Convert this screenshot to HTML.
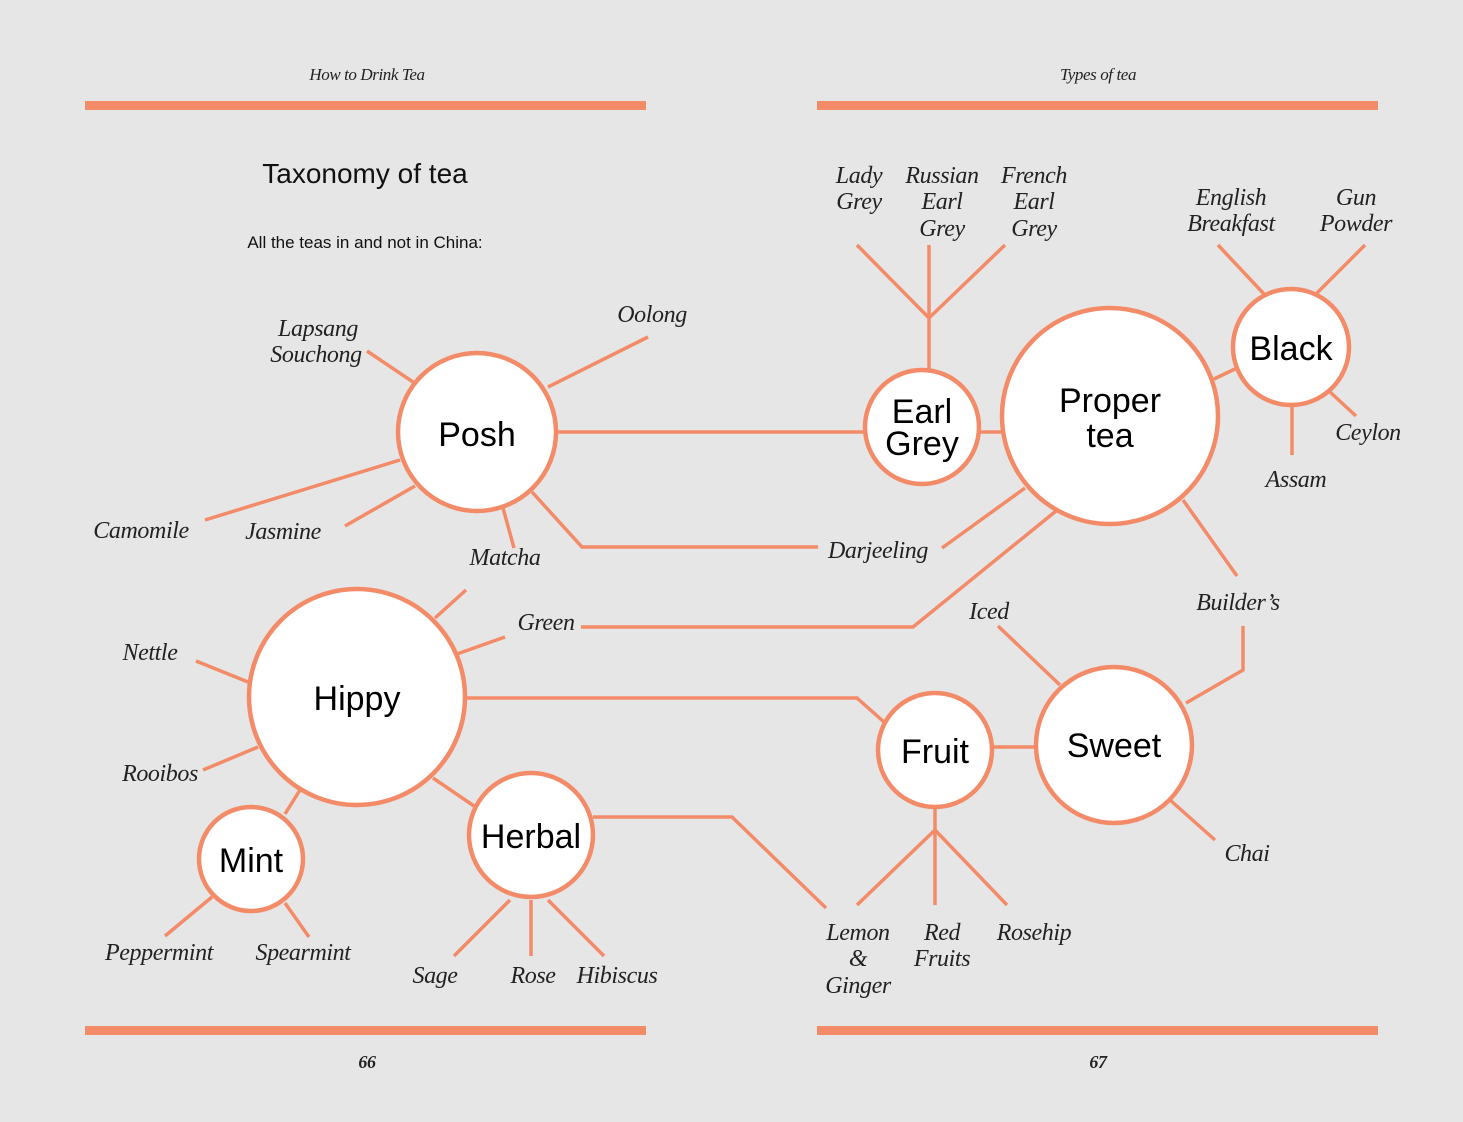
<!DOCTYPE html>
<html><head><meta charset="utf-8"><style>
html,body{margin:0;padding:0;background:#e6e6e6;}
svg{display:block}
.s{font-family:"Liberation Sans",sans-serif;fill:#111;}
.i{font-family:"Liberation Serif",serif;font-style:italic;fill:#222;font-size:24px;letter-spacing:-0.4px;}
.c{font-family:"Liberation Sans",sans-serif;fill:#000;font-size:34px;text-anchor:middle;font-weight:500;}
</style></head><body>
<svg width="1463" height="1122" viewBox="0 0 1463 1122" xmlns="http://www.w3.org/2000/svg">
<rect width="1463" height="1122" fill="#e6e6e6"/>
<g fill="#f38b68">
<rect x="85" y="101" width="561" height="9"/><rect x="817" y="101" width="561" height="9"/>
<rect x="85" y="1026" width="561" height="9"/><rect x="817" y="1026" width="561" height="9"/>
</g>
<text x="367" y="80" class="i" style="font-size:17px" text-anchor="middle">How to Drink Tea</text>
<text x="1098" y="80" class="i" style="font-size:17px" text-anchor="middle">Types of tea</text>
<text x="367" y="1068" class="i" style="font-size:18px;font-weight:bold" text-anchor="middle">66</text>
<text x="1098" y="1068" class="i" style="font-size:18px;font-weight:bold" text-anchor="middle">67</text>
<text x="365" y="183" class="s" style="font-size:28px" text-anchor="middle">Taxonomy of tea</text>
<text x="365" y="248" class="s" style="font-size:17px" text-anchor="middle">All the teas in and not in China:</text>
<g stroke="#f38b68" stroke-width="3.5" fill="none">
<path d="M557 432H865M367 351L413 382M548 387L648 337M205 520L400 460M345 526L415 486M503 508L514 548M532 492L582 547H818M942 548L1025 488"/>
<path d="M929 370V318M929 318L857 245M929 318V245M929 318L1005 245M979 432H1002M1214 379L1237 368"/>
<path d="M1218 245L1264 294M1365 245L1316 294M1330 392L1356 416M1292 404V455M1183 500L1237 576M1243 626V670L1186 703"/>
<path d="M1056 511L913 627H581M505 637L457 654M466 590L435 618M196 661L248 682M203 770L258 747M300 790L285 814M433 778L474 806"/>
<path d="M466 698H857L884 722M593 817H732L826 908M510 900L454 956M531 900V956M548 900L604 956M212 897L165 936M285 903L309 937"/>
<path d="M935 805V830M935 830L857 905M935 830V905M935 830L1007 905M992 747H1036M998 626L1060 685M1170 800L1215 840"/>
</g>
<g stroke="#f38b68" stroke-width="4.5" fill="#fff">
<circle cx="477" cy="432" r="79"/><circle cx="922" cy="427" r="57"/><circle cx="1110" cy="416" r="108"/>
<circle cx="1291" cy="347" r="58"/><circle cx="357" cy="697" r="108"/><circle cx="251" cy="859" r="52"/>
<circle cx="531" cy="835" r="62"/><circle cx="935" cy="750" r="57"/><circle cx="1114" cy="745" r="78"/>
</g>
<text class="c" x="477" y="446">Posh</text>
<text class="c" x="922" y="423">Earl</text><text class="c" x="922" y="455">Grey</text>
<text class="c" x="1110" y="412">Proper</text><text class="c" x="1110" y="447">tea</text>
<text class="c" x="1291" y="360">Black</text>
<text class="c" x="357" y="710">Hippy</text>
<text class="c" x="251" y="872">Mint</text>
<text class="c" x="531" y="848">Herbal</text>
<text class="c" x="935" y="763">Fruit</text>
<text class="c" x="1114" y="757">Sweet</text>
<g class="i" text-anchor="middle">
<text x="318" y="336">Lapsang</text><text x="316" y="362">Souchong</text>
<text x="652" y="322">Oolong</text>
<text x="141" y="538">Camomile</text><text x="283" y="539">Jasmine</text>
<text x="505" y="565">Matcha</text><text x="878" y="558">Darjeeling</text>
<text x="546" y="630">Green</text><text x="150" y="660">Nettle</text><text x="160" y="781">Rooibos</text>
<text x="859" y="183">Lady</text><text x="859" y="209">Grey</text>
<text x="942" y="183">Russian</text><text x="942" y="209">Earl</text><text x="942" y="236">Grey</text>
<text x="1034" y="183">French</text><text x="1034" y="209">Earl</text><text x="1034" y="236">Grey</text>
<text x="1231" y="205">English</text><text x="1231" y="231">Breakfast</text>
<text x="1356" y="205">Gun</text><text x="1356" y="231">Powder</text>
<text x="1368" y="440">Ceylon</text><text x="1296" y="487">Assam</text>
<text x="1238" y="610">Builder’s</text><text x="989" y="619">Iced</text>
<text x="1247" y="861">Chai</text>
<text x="159" y="960">Peppermint</text><text x="303" y="960">Spearmint</text>
<text x="435" y="983">Sage</text><text x="533" y="983">Rose</text><text x="617" y="983">Hibiscus</text>
<text x="858" y="940">Lemon</text><text x="858" y="966">&amp;</text><text x="858" y="993">Ginger</text>
<text x="942" y="940">Red</text><text x="942" y="966">Fruits</text>
<text x="1034" y="940">Rosehip</text>
</g>
</svg>
</body></html>
